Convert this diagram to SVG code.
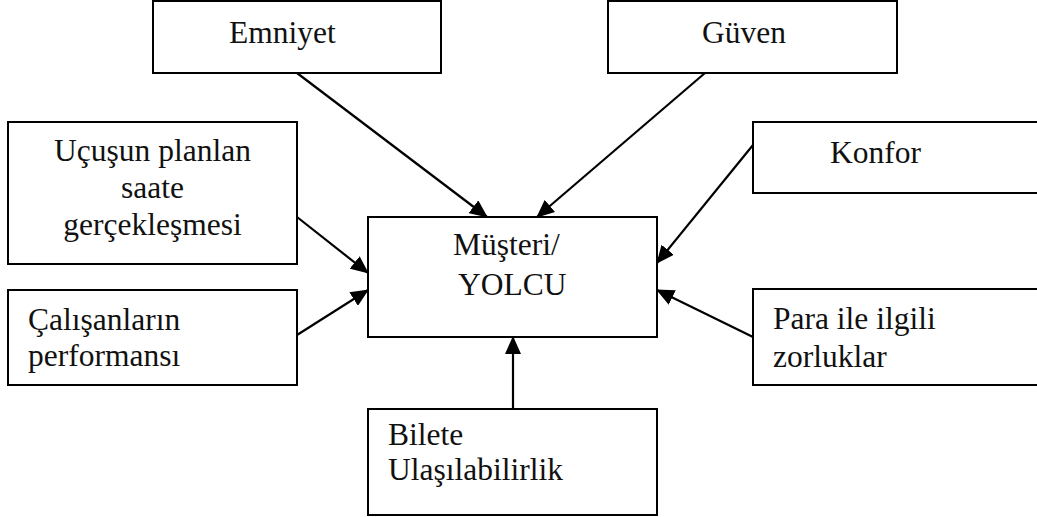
<svg xmlns="http://www.w3.org/2000/svg" width="1037" height="517" viewBox="0 0 1037 517">
  <style>
    .box { fill: #ffffff; stroke: #000000; stroke-width: 2; }
    .lbl { font-family: "Liberation Serif", "Times New Roman", Times, serif; font-size: 31.5px; fill: #111111; }
    .link { stroke: #000000; stroke-width: 2.2; fill: none; marker-end: url(#head); }
  </style>
  <defs>
    <marker id="head" markerUnits="userSpaceOnUse" markerWidth="18" markerHeight="16" viewBox="0 0 18 16" refX="17" refY="8" orient="auto">
      <path d="M0,0 L18,8 L0,16 Z" fill="#000000"/>
    </marker>
  </defs>

  <g id="node-emniyet">
    <rect class="box" x="153" y="1" width="288" height="72"/>
    <text class="lbl" x="229" y="43">Emniyet</text>
  </g>

  <g id="node-guven">
    <rect class="box" x="608" y="1" width="289" height="72"/>
    <text class="lbl" x="702" y="43">Güven</text>
  </g>

  <g id="node-ucusun">
    <rect class="box" x="8" y="122" width="289" height="142"/>
    <text class="lbl" x="152.5" y="161" text-anchor="middle">Uçuşun planlan</text>
    <text class="lbl" x="152.5" y="198" text-anchor="middle">saate</text>
    <text class="lbl" x="152.5" y="235" text-anchor="middle">gerçekleşmesi</text>
  </g>

  <g id="node-calisanlar">
    <rect class="box" x="8" y="290" width="289" height="95"/>
    <text class="lbl" x="28" y="330">Çalışanların</text>
    <text class="lbl" x="28" y="366">performansı</text>
  </g>

  <g id="node-konfor">
    <rect class="box" x="753" y="122" width="300" height="71"/>
    <text class="lbl" x="830" y="163">Konfor</text>
  </g>

  <g id="node-para">
    <rect class="box" x="753" y="289" width="300" height="96"/>
    <text class="lbl" x="773" y="329">Para ile ilgili</text>
    <text class="lbl" x="773" y="367">zorluklar</text>
  </g>

  <g id="node-musteri">
    <rect class="box" x="368" y="217" width="289" height="120"/>
    <text class="lbl" x="453" y="255">Müşteri/</text>
    <text class="lbl" x="458" y="295">YOLCU</text>
  </g>

  <g id="node-bilete">
    <rect class="box" x="368" y="409" width="289" height="106"/>
    <text class="lbl" x="388" y="445">Bilete</text>
    <text class="lbl" x="388" y="480">Ulaşılabilirlik</text>
  </g>

  <g id="connectors">
    <line class="link" x1="297" y1="73" x2="487" y2="217"/>
    <line class="link" x1="705" y1="73" x2="537" y2="217"/>
    <line class="link" x1="297" y1="217" x2="368" y2="273"/>
    <line class="link" x1="297" y1="335" x2="368" y2="290"/>
    <line class="link" x1="753" y1="145" x2="657" y2="263"/>
    <line class="link" x1="753" y1="337" x2="657" y2="290"/>
    <line class="link" x1="513" y1="409" x2="513" y2="337"/>
  </g>
</svg>
